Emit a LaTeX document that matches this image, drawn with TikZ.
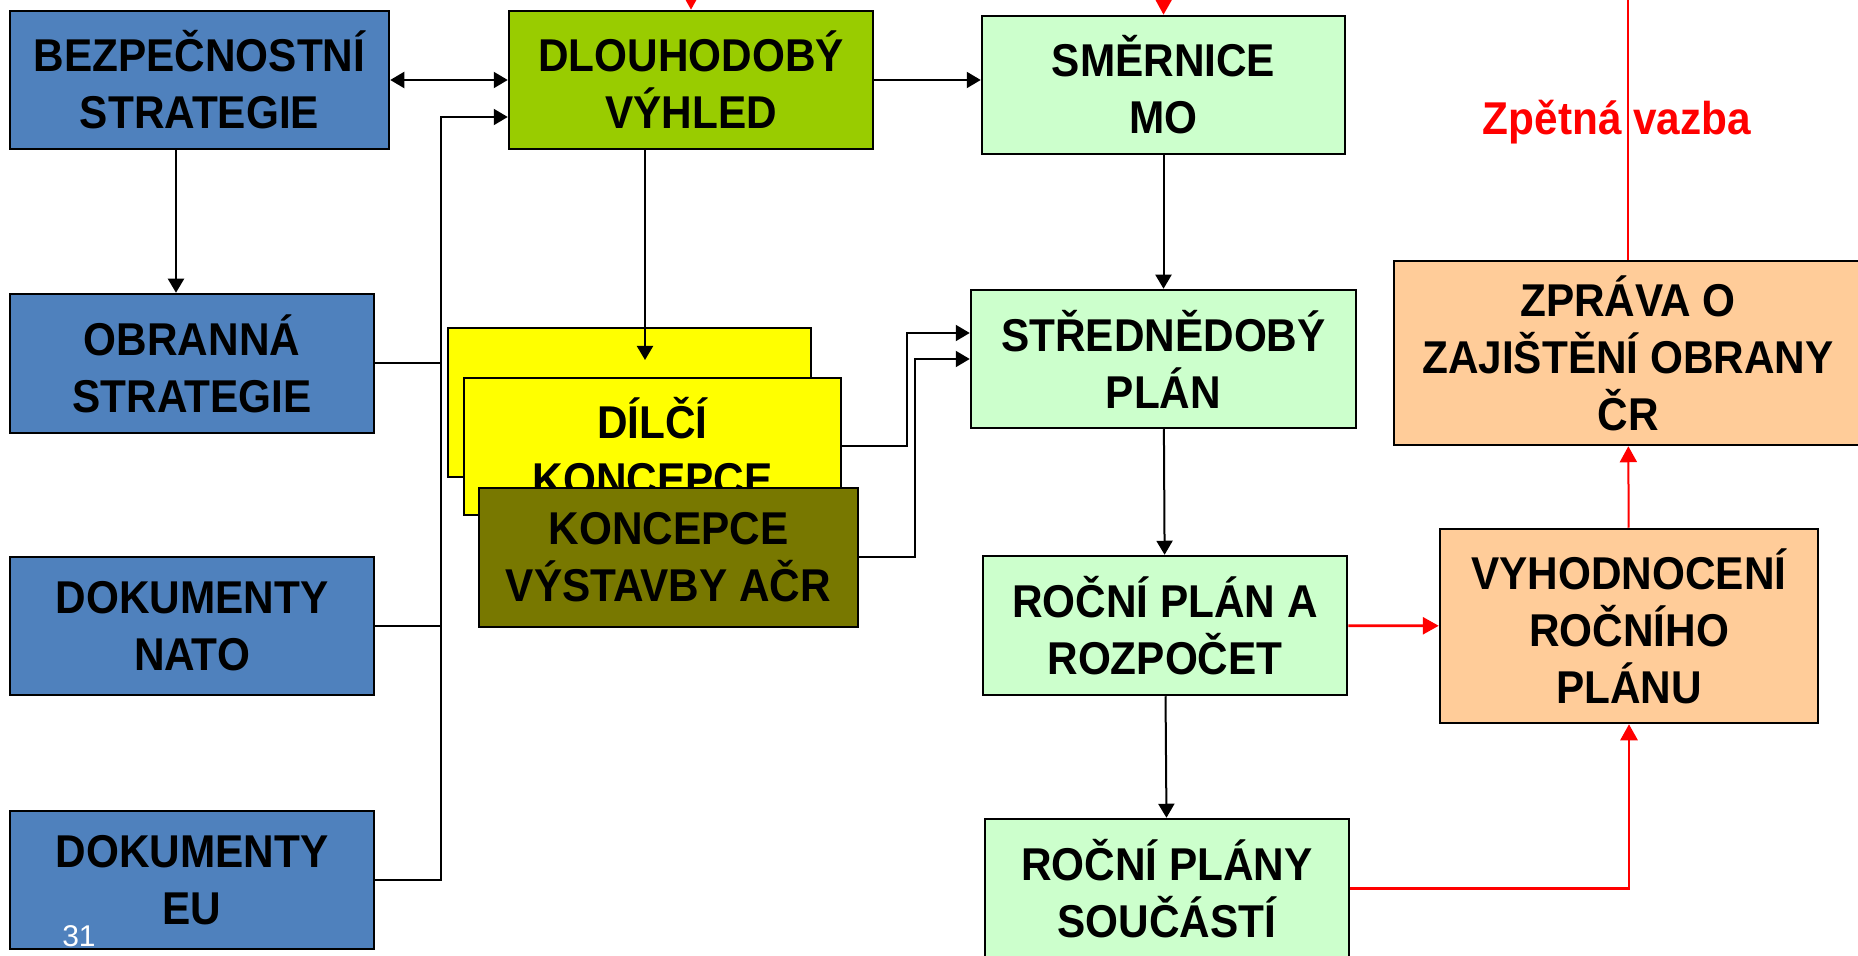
\documentclass[tikz,border=0pt]{standalone}
\usepackage{fontspec}
\setmainfont{Liberation Sans}[FakeStretch=0.92]
\newfontfamily\slidefont{Liberation Sans}
\usetikzlibrary{arrows.meta}
\definecolor{modra}{HTML}{4F81BD}
\definecolor{zelena}{HTML}{99CC00}
\definecolor{svetla}{HTML}{CCFFCC}
\definecolor{zluta}{HTML}{FFFF00}
\definecolor{olivova}{HTML}{787800}
\definecolor{oranz}{HTML}{FFCC99}
\begin{document}
\begin{tikzpicture}[x=0.5pt,y=-0.5pt,
	box/.style={draw,line width=1.25pt,inner sep=0pt,align=center,
		minimum width=182pt,minimum height=69pt,
		font=\fontsize{23}{28.5}\selectfont\bfseries},
	edge/.style={line width=1pt,-{Triangle[length=7pt,width=8pt]}},
	line/.style={line width=1pt},
	fb/.style={red,line width=1.4pt,-{Triangle[length=8pt,width=8.5pt]}}
	]
	\useasboundingbox (0,0) rectangle (1858,956);

	\node[box,fill=modra,minimum width=189.5pt] (bez) at (199.5,80) {BEZPEČNOSTNÍ\\STRATEGIE};
	\node[box,fill=modra,minimum height=69.5pt] (obr) at (192,363.5) {OBRANNÁ\\STRATEGIE};
	\node[box,fill=modra] (nato) at (192,626) {DOKUMENTY\\NATO};
	\node[box,fill=modra] (eu) at (192,880) {DOKUMENTY\\EU};
	\node[text=white,font=\slidefont\fontsize{15}{18}\selectfont,anchor=base] (cislo) at (79,946) {31};

	\node[box,fill=zelena] (dlo) at (691,80) {DLOUHODOBÝ\\VÝHLED};
	\node[box,fill=zluta,minimum width=181.5pt,minimum height=74.5pt] (dil1) at (629.5,402.5) {};
	\node[box,fill=zluta,minimum width=188.5pt,minimum height=68.5pt] (dil2) at (652.5,446.5) {DÍLČÍ\\KONCEPCE};
	\node[box,fill=olivova,minimum width=189.5pt,minimum height=69.5pt] (kon) at (668.5,557.5) {KONCEPCE\\VÝSTAVBY AČR};

	\node[box,fill=svetla,minimum width=181.5pt] (sme) at (1163.5,85) {SMĚRNICE\\MO};
	\node[box,fill=svetla,minimum width=192.5pt] (str) at (1163.5,359) {STŘEDNĚDOBÝ\\PLÁN};
	\node[box,fill=svetla,minimum height=69.5pt] (rpl) at (1165,625.5) {ROČNÍ PLÁN A\\ROZPOČET};
	\node[box,fill=svetla,minimum height=69.5pt] (rps) at (1167,888.5) {ROČNÍ PLÁNY\\SOUČÁSTÍ};

	\node[box,fill=oranz,minimum width=234pt,minimum height=92pt] (zpr) at (1628,353) {ZPRÁVA O\\ZAJIŠTĚNÍ OBRANY\\ČR};
	\node[box,fill=oranz,minimum width=189pt,minimum height=97pt] (vyh) at (1629,626) {VYHODNOCENÍ\\ROČNÍHO\\PLÁNU};
	\node[text=red,font=\fontsize{23}{28.5}\selectfont\bfseries,anchor=base] (vazba) at (1617,135) {Zpětná vazba};

	\coordinate (trunk) at (441,117);
	\coordinate (dilin) at (645,360);
	\coordinate (inA) at (691,-40);
	\coordinate (inB) at (1164,-40);
	\coordinate (fbtop) at (1628,-20);

	\draw[edge,{Triangle[length=7pt,width=8pt]}-{Triangle[length=7pt,width=8pt]}] (bez) -- (dlo);
	\draw[edge] ([xshift=-11.75pt]bez.south) -- ([xshift=-11.75pt]bez.south |- obr.north);
	\draw[edge] (eu.east) -| (trunk) -- (trunk -| dlo.west);
	\draw[line] (obr.east) -- (obr.east -| trunk);
	\draw[line] (nato.east) -- (nato.east -| trunk);
	\draw[edge] (dlo.south -| dilin) -- (dilin);
	\draw[edge] (dlo.east) -- (dlo.east -| sme.west);
	\draw[edge] (dil2.east) -- ++(65,0) |- ([yshift=13pt]str.west);
	\draw[edge] (kon.east) -- ++(56,0) |- (str.west);
	\draw[edge] (sme) -- (str);
	\draw[edge] (str) -- (rpl);
	\draw[edge] (rpl) -- (rps);

	\draw[fb] (inA) -- (dlo.north);
	\draw[fb] (inB) -- (sme.north);
	\draw[fb] (rpl) -- (vyh);
	\draw[fb] (rps.east) -| (vyh.south);
	\draw[fb,line width=1pt] (vyh) -- (zpr);
	\draw[red,line width=1pt] (zpr.north) -- (zpr.north |- fbtop);
\end{tikzpicture}
\end{document}
